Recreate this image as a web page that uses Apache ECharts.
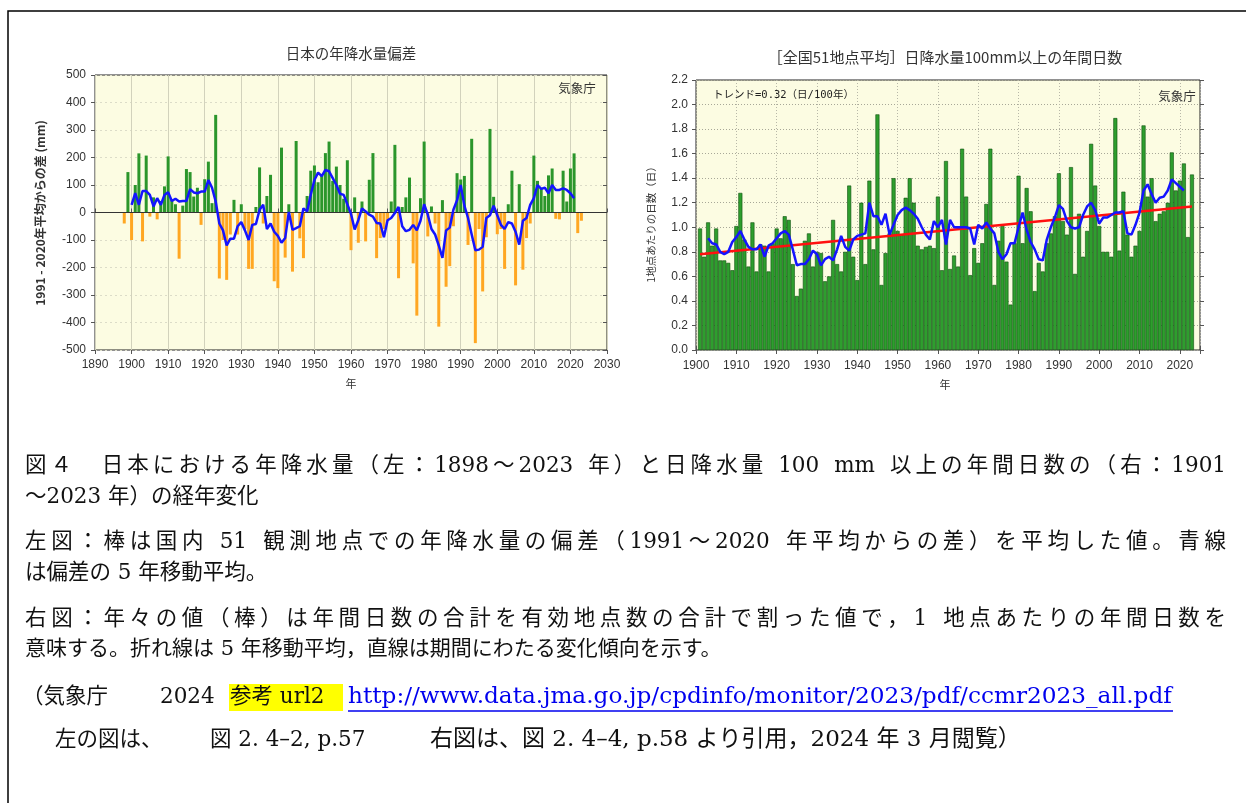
<!DOCTYPE html>
<html><head><meta charset="utf-8">
<script src="https://cdn.jsdelivr.net/npm/echarts/dist/echarts.min.js"></script>
<style>html,body{margin:0;padding:0;background:#fff;}#c{width:1246px;height:803px;}</style>
</head><body><div id="c"></div>
<script>
// ---------- DATA ----------
const leftStartYear = 1898;
const leftAnomaly = [ // 1898-2023, mm
 -40,147,-100,100,215,-105,207,-15,55,-25,42,95,204,46,30,-168,25,158,147,58,
 90,-45,121,185,34,355,-240,-100,-245,-80,46,-80,30,-60,-205,-205,20,164,-40,60,
 137,-250,-275,236,-164,30,-215,260,-94,-166,60,152,171,110,135,216,258,115,167,100,
 50,190,-137,55,-110,40,-105,119,216,-166,-93,-60,-30,40,246,-239,20,55,127,-185,
 -375,52,258,-87,22,-40,-415,45,-270,-195,-50,143,120,133,-118,268,-475,-60,-287,-90,
 304,57,-79,-60,-205,30,152,-265,103,-208,-93,-40,207,115,90,60,135,160,-23,-25,
 152,40,160,215,-75,-30];
const leftMAStartYear = 1900;
const leftMA = [ // 5-yr moving average 1900-2021
 28,70,28,78,78,64,22,52,28,64,74,42,50,40,42,42,85,73,70,76,
 76,118,90,40,-40,-65,-120,-95,-95,-50,-35,-65,-100,-45,-42,10,28,-60,-40,-70,
 -85,-110,-93,2,-63,-57,-50,15,4,65,118,145,132,155,150,125,100,68,64,30,
 -5,-62,-28,15,4,-8,-15,-38,-40,-90,-28,-20,-2,20,-50,-68,-63,-45,-65,-30,
 30,-8,-60,-80,-120,-165,-65,-55,10,45,100,25,-20,-80,-137,-135,-125,-20,-10,25,
 -10,-45,-60,-35,-40,-70,-117,-30,-20,28,52,100,86,90,70,100,82,82,88,82,
 70,52];
const leftXTicks = [1890,1900,1910,1920,1930,1940,1950,1960,1970,1980,1990,2000,2010,2020,2030];

const rightStartYear = 1901;
const rightDays = [ // 1901-2023, days per station
 0.99,0.76,1.04,0.85,0.99,0.73,0.73,0.71,0.65,1.01,1.28,0.90,0.68,1.04,0.64,0.86,0.85,0.64,0.87,0.99,
 0.91,1.09,1.06,0.70,0.44,0.50,0.89,0.95,0.68,0.80,0.79,0.56,0.60,1.06,0.70,0.64,0.80,1.34,0.76,0.57,
 1.20,0.70,1.38,0.82,1.92,0.53,0.79,0.95,1.40,0.97,0.94,1.24,1.40,1.20,0.85,0.82,0.84,0.85,0.83,1.25,
 0.65,1.54,0.66,0.77,0.68,1.64,1.25,0.61,0.83,0.71,0.87,1.19,1.64,0.53,0.89,1.01,0.72,0.37,0.87,1.42,
 0.87,1.32,1.13,0.48,0.71,0.64,0.87,0.95,1.09,1.44,1.05,0.94,1.49,0.62,1.11,0.76,0.97,1.68,1.34,1.01,
 0.80,0.80,0.76,1.89,0.81,1.29,0.94,0.76,0.85,0.97,1.83,1.25,1.40,1.05,1.11,1.13,1.20,1.61,1.30,1.38,
 1.52,0.92,1.43];
const rightMAStartYear = 1903;
const rightMA = [ // 5-yr moving average 1903-2021
 0.91,0.87,0.86,0.80,0.78,0.80,0.88,0.92,0.97,0.90,0.84,0.82,0.82,0.86,0.76,0.85,0.87,0.91,0.95,0.97,
 0.94,0.82,0.69,0.70,0.70,0.74,0.81,0.78,0.69,0.74,0.76,0.73,0.82,0.93,0.84,0.81,0.90,0.93,0.94,0.95,
 1.20,1.09,1.09,1.02,1.11,0.94,1.02,1.10,1.14,1.16,1.14,1.11,1.07,1.00,0.94,0.90,1.05,1.00,1.06,0.86,
 1.06,1.00,1.00,1.00,1.00,0.99,0.86,1.02,0.99,1.04,0.99,0.95,0.80,0.74,0.78,0.87,0.87,1.00,1.12,0.98,
 0.88,0.82,0.74,0.73,0.90,1.00,1.08,1.18,1.15,1.05,1.00,0.99,1.00,1.10,1.17,1.20,1.14,1.03,1.08,1.08,
 1.10,1.12,1.12,1.13,0.95,0.94,1.02,1.12,1.30,1.35,1.27,1.20,1.24,1.25,1.30,1.39,1.36,1.33,1.30];
const trendYears = [1901, 2023];
const trendValues = [0.78, 1.17];
const rightXTicks = [1900,1910,1920,1930,1940,1950,1960,1970,1980,1990,2000,2010,2020];

// ---------- BUILD ----------
const pairs = (start, arr) => arr.map((v, i) => [start + i, v]);
const leftBars = pairs(leftStartYear, leftAnomaly);
const leftLine = pairs(leftMAStartYear, leftMA);
const rightBars = pairs(rightStartYear, rightDays);
const rightLine = pairs(rightMAStartYear, rightMA);
const trendLine = trendYears.map((y, i) => [y, trendValues[i]]);

const SANS = '"Liberation Sans", Arial, "Noto Sans CJK JP", sans-serif';
const CJK = '"Noto Sans CJK JP", "Liberation Sans", sans-serif';
const CAP = '"DejaVu Serif", "Noto Sans CJK JP", serif';
const CAPSIZE = 21.5;

const lblStyle = { fontFamily: SANS, fontSize: 12, color: '#333' };

const chart = echarts.init(document.getElementById('c'), null, { renderer: 'canvas' });

// text helpers
const mctx = document.createElement('canvas').getContext('2d');
function tokens(str) { return str.match(/[A-Za-z0-9.\/_:\-–]+|./gu) || []; }
function justifiedLine(str, x0, x1, y) {
  mctx.font = CAPSIZE + 'px ' + CAP;
  const tk = tokens(str);
  const w = tk.map(t => mctx.measureText(t).width);
  const tot = w.reduce((a, b) => a + b, 0);
  const extra = tk.length > 1 ? (x1 - x0 - tot) / (tk.length - 1) : 0;
  let x = x0; const out = [];
  tk.forEach((t, i) => {
    out.push({ type: 'text', x: x, y: y, z: 10,
      style: { text: t, fontFamily: CAP, fontSize: CAPSIZE, fill: '#111', textVerticalAlign: 'middle' } });
    x += w[i] + extra;
  });
  return out;
}
function plainLine(str, x, y, color, size) {
  return { type: 'text', x: x, y: y, z: 10,
    style: { text: str, fontFamily: CAP, fontSize: size || CAPSIZE, fill: color || '#111', textVerticalAlign: 'middle' } };
}

const graphics = [];
graphics.push({ type: 'rect', z: 0, shape: { x: 8, y: 11, width: 1400, height: 1000 },
  style: { fill: 'none', stroke: '#000', lineWidth: 1.5 } });
// chart titles and labels
graphics.push({ type: 'text', x: 351, y: 53, style: { text: '日本の年降水量偏差', fontFamily: CJK, fontSize: 14.5, fill: '#333', textAlign: 'center', textVerticalAlign: 'middle' } });
graphics.push({ type: 'text', x: 945, y: 57, style: { text: '［全国51地点平均］日降水量100mm以上の年間日数', fontFamily: CJK, fontSize: 15, fill: '#333', textAlign: 'center', textVerticalAlign: 'middle' } });
graphics.push({ type: 'text', x: 577, y: 88, z: 20, style: { text: '気象庁', fontFamily: CJK, fontSize: 12.5, fill: '#333', textAlign: 'center', textVerticalAlign: 'middle' } });
graphics.push({ type: 'text', x: 1177, y: 96, z: 20, style: { text: '気象庁', fontFamily: CJK, fontSize: 12.5, fill: '#333', textAlign: 'center', textVerticalAlign: 'middle' } });
graphics.push({ type: 'text', x: 713, y: 95, z: 20, style: { text: 'トレンド=0.32（日/100年）', fontFamily: '"DejaVu Sans Mono", "Noto Sans CJK JP", monospace', fontSize: 10.5, fill: '#222', textVerticalAlign: 'middle' } });
graphics.push({ type: 'text', x: 351, y: 384, style: { text: '年', fontFamily: CJK, fontSize: 11, fill: '#333', textAlign: 'center', textVerticalAlign: 'middle' } });
graphics.push({ type: 'text', x: 945, y: 385, style: { text: '年', fontFamily: CJK, fontSize: 11, fill: '#333', textAlign: 'center', textVerticalAlign: 'middle' } });
graphics.push({ type: 'text', x: 40, y: 213, rotation: Math.PI / 2, style: { text: '1991 - 2020年平均からの差 (mm)', fontFamily: CJK, fontSize: 12, fontWeight: 'bold', fill: '#333', textAlign: 'center', textVerticalAlign: 'middle' } });
graphics.push({ type: 'text', x: 651, y: 222, rotation: Math.PI / 2, style: { text: '1地点あたりの日数（日）', fontFamily: CJK, fontSize: 10.5, fill: '#333', textAlign: 'center', textVerticalAlign: 'middle' } });

// caption
justifiedLine('図４　日本における年降水量（左：1898〜2023 年）と日降水量 100 mm 以上の年間日数の（右：1901', 25, 1226, 466).forEach(g => graphics.push(g));
graphics.push(plainLine('〜2023 年）の経年変化', 25, 497));
justifiedLine('左図：棒は国内 51 観測地点での年降水量の偏差（1991〜2020 年平均からの差）を平均した値。青線', 25, 1226, 542).forEach(g => graphics.push(g));
graphics.push(plainLine('は偏差の 5 年移動平均。', 25, 573));
justifiedLine('右図：年々の値（棒）は年間日数の合計を有効地点数の合計で割った値で，1 地点あたりの年間日数を', 25, 1226, 619).forEach(g => graphics.push(g));
graphics.push(plainLine('意味する。折れ線は 5 年移動平均，直線は期間にわたる変化傾向を示す。', 25, 650, null, 21));
graphics.push(plainLine('（気象庁', 22, 697));
graphics.push(plainLine('2024', 160, 697));
graphics.push({ type: 'rect', z: 5, shape: { x: 229, y: 684, width: 114, height: 27 }, style: { fill: '#ffff00' } });
graphics.push(plainLine('参考 url2', 230, 697));
graphics.push(plainLine('http://www.data.jma.go.jp/cpdinfo/monitor/2023/pdf/ccmr2023_all.pdf', 348, 697, '#0000ee', 23.2));
graphics.push({ type: 'line', z: 10, shape: { x1: 348, y1: 711, x2: 1173, y2: 711 }, style: { stroke: '#0000ee', lineWidth: 1.5 } });
graphics.push(plainLine('左の図は、', 55, 740));
graphics.push(plainLine('図 2. 4–2, p.57', 210, 740));
graphics.push(plainLine('右図は、図 2. 4–4, p.58 より引用，2024 年 3 月閲覧）', 430, 740, null, 23));

const tickStyle = { color: '#555' };
const option = {
  animation: false,
  backgroundColor: '#ffffff',
  grid: [
    { left: 95, top: 75, width: 512, height: 275, show: true, backgroundColor: '#fcfce2', borderColor: '#222', borderWidth: 1, outerBoundsMode: 'none', containLabel: false },
    { left: 696, top: 80, width: 504, height: 270, show: true, backgroundColor: '#fcfce2', borderColor: '#222', borderWidth: 1, outerBoundsMode: 'none', containLabel: false }
  ],
  xAxis: [
    { gridIndex: 0, type: 'value', min: 1890, max: 2030, interval: 10, position: 'bottom',
      axisLine: { show: false, onZero: false }, axisTick: { inside: false, length: 4, lineStyle: tickStyle },
      axisLabel: Object.assign({ margin: 9, formatter: v => leftXTicks.indexOf(v) >= 0 ? String(v) : '' }, lblStyle),
      splitLine: { show: true, lineStyle: { color: '#d2d2bc', width: 1 } } },
    { gridIndex: 0, type: 'value', min: 1890, max: 2030, interval: 10, position: 'top',
      axisLine: { show: false }, axisTick: { inside: false, length: 4, lineStyle: tickStyle },
      axisLabel: { show: false }, splitLine: { show: false } },
    { gridIndex: 1, type: 'value', min: 1900, max: 2025, interval: 10, position: 'bottom',
      axisLine: { show: false, onZero: false }, axisTick: { inside: false, length: 4, lineStyle: tickStyle },
      axisLabel: Object.assign({ margin: 10, formatter: v => rightXTicks.indexOf(v) >= 0 ? String(v) : '' }, lblStyle),
      splitLine: { show: true, lineStyle: { color: '#b8b8a8', width: 1, type: [1, 2] } } },
    { gridIndex: 1, type: 'value', min: 1900, max: 2025, interval: 10, position: 'top',
      axisLine: { show: false }, axisTick: { inside: false, length: 4, lineStyle: tickStyle },
      axisLabel: { show: false }, splitLine: { show: false } }
  ],
  yAxis: [
    { gridIndex: 0, type: 'value', min: -500, max: 500, interval: 100,
      axisLine: { show: false }, axisTick: { show: true, inside: false, length: 4, lineStyle: tickStyle },
      axisLabel: Object.assign({ margin: 9 }, lblStyle),
      splitLine: { show: true, lineStyle: { color: '#dcdcc8', width: 1, type: [2, 3] } } },
    { gridIndex: 0, type: 'value', min: -500, max: 500, interval: 100, position: 'right',
      axisLine: { show: false }, axisTick: { show: true, inside: true, length: 4, lineStyle: tickStyle },
      axisLabel: { show: false }, splitLine: { show: false } },
    { gridIndex: 1, type: 'value', min: 0, max: 2.2, interval: 0.2,
      axisLine: { show: false }, axisTick: { show: true, inside: false, length: 4, lineStyle: tickStyle },
      axisLabel: Object.assign({ margin: 8, formatter: v => v.toFixed(1) }, lblStyle),
      splitLine: { show: true, lineStyle: { color: '#a8a898', width: 1, type: [1, 2] } } },
    { gridIndex: 1, type: 'value', min: 0, max: 2.2, interval: 0.2, position: 'right',
      axisLine: { show: false }, axisTick: { show: true, inside: false, length: 4, lineStyle: tickStyle },
      axisLabel: { show: false }, splitLine: { show: false } }
  ],
  series: [
    { type: 'bar', xAxisIndex: 0, yAxisIndex: 0, data: leftBars, barWidth: 3, z: 2,
      itemStyle: { color: p => p.value[1] >= 0 ? '#2b962b' : '#ffa722' },
      markLine: { silent: true, symbol: 'none', label: { show: false }, animation: false,
        lineStyle: { color: '#333', width: 1, type: 'solid' }, data: [{ yAxis: 0 }] } },
    { type: 'line', xAxisIndex: 0, yAxisIndex: 0, data: leftLine, showSymbol: false, symbol: 'none', z: 5,
      lineStyle: { color: '#1414ff', width: 2.5 } },
    { type: 'bar', xAxisIndex: 2, yAxisIndex: 2, data: rightBars, barWidth: 4, z: 2,
      itemStyle: { color: '#2e9e2e', borderColor: '#0d4f0d', borderWidth: 0.6 } },
    { type: 'line', xAxisIndex: 2, yAxisIndex: 2, data: trendLine, showSymbol: false, symbol: 'none', z: 4,
      lineStyle: { color: '#ff1010', width: 2.5 } },
    { type: 'line', xAxisIndex: 2, yAxisIndex: 2, data: rightLine, showSymbol: false, symbol: 'none', z: 5,
      lineStyle: { color: '#1414ff', width: 2.5 } }
  ],
  graphic: { elements: graphics }
};
chart.setOption(option);
</script>
</body></html>
